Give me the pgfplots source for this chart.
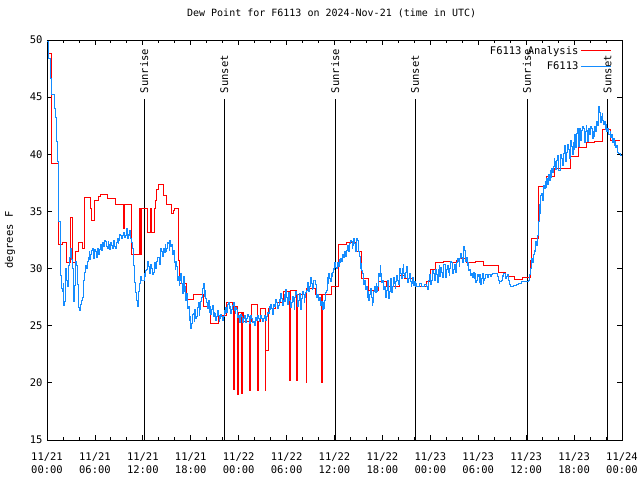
\documentclass[border=0pt]{standalone}
\usepackage{pgfplots}
\pgfplotsset{compat=1.18}
\usepackage{fontspec}
\setmainfont{DejaVu Sans Mono}
\definecolor{obsblue}{RGB}{20,140,255}
\begin{document}
\begin{tikzpicture}
\useasboundingbox (-47pt,-40pt) rectangle (593pt,440pt);
\begin{axis}[
  at={(0,0)}, anchor=south west,
  scale only axis, width=575pt, height=400pt,
  xmin=0, xmax=72, ymin=15, ymax=50,
  xtick={0,6,...,72},
  xticklabels={11/21\\00:00,11/21\\06:00,11/21\\12:00,11/21\\18:00,11/22\\00:00,11/22\\06:00,11/22\\12:00,11/22\\18:00,11/23\\00:00,11/23\\06:00,11/23\\12:00,11/23\\18:00,11/24\\00:00},
  minor x tick num=2,
  ytick={15,20,...,50},
  tick align=inside,
  major tick length=5pt, minor tick length=3pt,
  tick style={black, line width=0.8pt},
  axis line style={line width=0.8pt},
  /pgf/number format/assume math mode=true,
  ticklabel style={font=\fontsize{10.5}{13}\selectfont},
  xticklabel style={align=center, yshift=-9pt},
  yticklabel style={xshift=-1pt},
  title={Dew Point for F6113 on 2024-Nov-21 (time in UTC)},
  title style={at={(axis description cs:0.495,1)}, anchor=base, yshift=17pt, font=\fontsize{10}{12}\selectfont},
  ylabel={degrees F},
  ylabel style={at={(axis description cs:-0.0643,0.5)}, anchor=center, font=\fontsize{10.5}{12}\selectfont},
  legend style={at={(0.982,0.99)}, anchor=north east, draw=none, fill=none, font=\fontsize{10.5}{12}\selectfont, inner sep=0pt, row sep=2pt},
  legend cell align=right,
  legend plot pos=right,
  legend image code/.code={\draw[#1] (0pt,0pt) -- (30pt,0pt);},
]
\addplot[black, line width=0.8pt, forget plot] coordinates {(12.18,15) (12.18,44.8)};
\addplot[black, line width=0.8pt, forget plot] coordinates {(22.2,15) (22.2,44.8)};
\addplot[black, line width=0.8pt, forget plot] coordinates {(36.1,15) (36.1,44.8)};
\addplot[black, line width=0.8pt, forget plot] coordinates {(46.1,15) (46.1,44.8)};
\addplot[black, line width=0.8pt, forget plot] coordinates {(60.1,15) (60.1,44.8)};
\addplot[black, line width=0.8pt, forget plot] coordinates {(70.2,15) (70.2,44.8)};
\node[rotate=90, anchor=west, inner sep=1pt, font=\fontsize{10.5}{12}\selectfont] at (axis cs:12.18,45.25) {Sunrise};
\node[rotate=90, anchor=west, inner sep=1pt, font=\fontsize{10.5}{12}\selectfont] at (axis cs:22.2,45.25) {Sunset};
\node[rotate=90, anchor=west, inner sep=1pt, font=\fontsize{10.5}{12}\selectfont] at (axis cs:36.1,45.25) {Sunrise};
\node[rotate=90, anchor=west, inner sep=1pt, font=\fontsize{10.5}{12}\selectfont] at (axis cs:46.1,45.25) {Sunset};
\node[rotate=90, anchor=west, inner sep=1pt, font=\fontsize{10.5}{12}\selectfont] at (axis cs:60.1,45.25) {Sunrise};
\node[rotate=90, anchor=west, inner sep=1pt, font=\fontsize{10.5}{12}\selectfont] at (axis cs:70.2,45.25) {Sunset};
\addplot[const plot, red, line width=1pt] table {
h v
0.1 48.8
0.55 39.2
1.38 32.1
1.9 32.3
2.4 30.5
2.9 34.5
3.25 30.5
3.6 31.5
3.9 32.3
4.4 31.8
4.7 36.2
5.45 35.3
5.6 34.25
6.0 36.0
6.5 36.3
6.7 36.5
7.55 36.1
8.6 35.6
9.55 33.5
9.7 35.6
10.6 31.2
11.55 35.3
11.65 31.2
11.8 35.3
12.6 33.2
12.9 35.3
12.95 33.2
13.05 35.3
13.1 33.2
13.45 35.3
13.55 36.0
13.65 36.9
13.9 37.4
14.6 36.4
15.0 35.6
15.6 34.8
15.8 35.1
16.0 35.3
16.45 30.7
16.6 28.7
17.5 27.3
18.4 27.7
19.6 26.7
20.5 25.2
21.45 25.9
22.5 27.0
23.2 26.7
23.35 19.4
23.5 26.7
23.85 19.0
23.95 26.2
24.35 19.1
24.45 26.2
24.55 25.4
25.3 19.3
25.5 25.4
25.6 26.9
26.3 25.4
26.35 19.3
26.5 25.4
26.7 26.5
27.3 19.3
27.4 22.8
27.7 26.5
28.55 27.0
29.6 28.0
30.35 20.2
30.55 28.1
31.25 20.2
31.4 27.75
32.45 20.0
32.55 28.3
33.6 27.7
34.35 20.0
34.5 27.7
35.65 28.4
36.5 32.1
37.5 32.3
38.57 31.5
39.4 29.1
40.2 28.1
41.5 28.85
42.5 28.4
44.2 29.4
44.8 29.1
45.9 28.6
46.3 28.4
47.5 28.9
48.0 29.9
48.6 30.5
49.6 30.6
50.7 30.5
51.3 30.7
51.7 30.9
52.55 30.5
53.6 30.6
54.6 30.25
56.5 29.7
57.35 29.3
58.6 29.05
59.6 29.2
60.5 30.75
60.7 32.6
61.6 37.2
62.6 38.1
63.5 38.8
65.5 39.8
66.5 40.6
67.6 41.05
68.6 41.1
69.5 42.2
70.5 41.2
71.75 41.2
};
\addlegendentry{F6113 Analysis}
\addplot[const plot, obsblue, line width=1pt] table {
h v
0.04 49.9
0.25 48.4
0.46 46.6
0.54 45.2
0.88 44.0
1.08 43.2
1.21 41.1
1.29 39.4
1.38 37.2
1.5 34.1
1.63 31.2
1.71 29.4
1.8 28.3
1.92 28.0
2.05 28.7
2.12 26.8
2.21 27.1
2.34 30.0
2.45 29.0
2.55 28.4
2.65 29.8
2.75 30.3
2.85 31.0
2.96 31.8
3.05 30.8
3.17 30.0
3.28 28.2
3.38 27.1
3.5 28.5
3.62 30.6
3.71 30.3
3.8 28.6
3.9 27.5
4.0 26.6
4.13 26.3
4.2 26.9
4.3 27.2
4.45 27.5
4.55 27.8
4.62 29.0
4.72 29.7
4.84 30.3
4.95 30.0
5.05 30.6
5.15 31.0
5.26 31.5
5.36 30.8
5.47 31.2
5.58 31.6
5.68 31.8
5.78 30.9
5.89 31.2
6.0 31.7
6.1 31.5
6.2 31.0
6.3 31.8
6.4 31.6
6.5 31.2
6.6 31.7
6.72 32.1
6.82 31.6
6.93 32.3
7.04 31.9
7.14 32.1
7.25 32.5
7.35 32.4
7.45 31.9
7.55 31.8
7.66 32.4
7.76 32.1
7.86 31.7
7.97 32.3
8.08 32.0
8.18 31.8
8.29 32.5
8.39 32.4
8.5 31.9
8.6 31.8
8.7 32.3
8.8 32.6
8.9 32.2
9.0 32.5
9.11 33.0
9.22 32.9
9.32 32.6
9.43 32.9
9.54 33.1
9.64 33.2
9.75 32.7
9.85 32.9
9.96 33.5
10.06 32.6
10.17 33.0
10.27 32.9
10.38 33.3
10.48 32.6
10.6 32.3
10.7 31.8
10.8 30.3
10.9 29.7
11.0 28.8
11.1 27.9
11.2 27.2
11.3 26.7
11.4 27.5
11.5 28.0
11.6 28.7
11.7 29.3
11.85 29.0
12.06 29.0
12.15 29.6
12.27 29.3
12.38 29.8
12.48 29.9
12.58 30.6
12.69 30.2
12.8 29.6
12.9 29.9
13.0 30.4
13.1 30.0
13.2 29.5
13.3 29.7
13.4 30.3
13.5 30.5
13.62 30.0
13.73 30.6
13.83 31.0
13.94 31.0
14.05 30.4
14.15 31.3
14.25 31.8
14.36 31.5
14.46 31.1
14.57 31.8
14.68 31.4
14.78 32.1
14.88 31.5
14.98 31.8
15.09 32.3
15.19 32.2
15.3 31.6
15.4 32.5
15.5 31.9
15.61 32.1
15.72 31.2
15.82 31.6
15.94 30.5
16.03 29.9
16.13 30.6
16.23 30.2
16.33 29.0
16.44 29.3
16.55 28.5
16.65 29.0
16.76 29.6
16.86 28.7
16.96 27.8
17.07 29.3
17.17 28.0
17.28 28.4
17.38 27.2
17.48 27.8
17.59 26.5
17.69 26.7
17.8 25.5
17.9 25.8
18.0 24.8
18.11 25.2
18.22 26.0
18.32 26.1
18.42 25.4
18.53 26.4
18.64 25.6
18.74 25.8
18.85 26.6
18.95 27.0
19.05 25.9
19.15 26.4
19.26 27.1
19.36 27.5
19.47 28.3
19.57 28.7
19.68 27.6
19.78 28.1
19.9 27.4
19.99 27.0
20.1 26.5
20.2 27.25
20.3 26.2
20.4 26.7
20.5 26.0
20.6 26.4
20.72 26.8
20.82 25.8
20.92 26.2
21.03 26.1
21.14 25.5
21.24 25.8
21.35 26.3
21.45 25.9
21.55 25.4
21.65 25.65
21.76 26.0
21.86 25.8
21.96 25.5
22.07 25.8
22.18 26.3
22.28 26.1
22.38 26.6
22.49 26.2
22.6 26.9
22.7 27.0
22.8 26.5
22.9 26.7
23.0 26.1
23.1 26.4
23.2 26.8
23.32 27.0
23.42 26.3
23.55 26.1
23.65 26.6
23.75 26.4
23.85 25.7
23.96 25.9
24.06 25.3
24.17 25.5
24.27 26.0
24.38 25.8
24.48 25.3
24.59 25.65
24.7 25.9
24.8 25.5
24.9 25.3
25.0 25.65
25.1 26.0
25.21 25.8
25.3 25.2
25.42 25.5
25.52 25.9
25.63 25.65
25.73 25.3
25.84 25.35
25.95 25.0
26.05 25.2
26.15 25.7
26.25 25.5
26.35 25.9
26.46 25.65
26.56 25.4
26.67 25.65
26.77 25.9
26.88 25.65
26.98 25.4
27.09 25.65
27.2 25.9
27.3 25.65
27.4 25.5
27.5 25.8
27.6 26.2
27.7 26.1
27.8 26.7
27.9 26.4
28.0 26.9
28.13 26.5
28.2 26.0
28.3 26.2
28.4 26.9
28.5 26.7
28.6 27.3
28.76 27.0
28.86 26.5
28.97 26.8
29.07 27.3
29.18 27.1
29.3 27.8
29.4 27.4
29.5 26.8
29.6 27.25
29.7 27.7
29.8 27.1
29.9 28.2
30.0 27.5
30.1 26.9
30.2 27.4
30.3 27.9
30.4 27.25
30.5 26.6
30.6 27.0
30.7 27.6
30.85 27.1
30.95 26.4
31.05 27.5
31.15 28.0
31.26 27.7
31.38 26.7
31.5 27.25
31.6 27.8
31.7 27.1
31.8 26.4
31.9 27.4
32.0 28.0
32.1 27.7
32.2 27.0
32.3 27.5
32.4 27.9
32.5 28.1
32.6 28.8
32.7 28.6
32.8 28.0
32.9 28.4
33.0 29.2
33.1 28.7
33.2 28.2
33.3 28.3
33.4 29.0
33.5 29.0
33.6 28.6
33.7 28.1
33.8 27.5
33.9 27.7
34.0 27.2
34.1 27.5
34.2 26.8
34.35 27.1
34.45 26.4
34.6 27.0
34.7 26.5
34.8 27.25
34.9 27.9
35.0 28.1
35.1 29.2
35.2 28.7
35.3 29.6
35.4 29.15
35.5 28.9
35.6 29.6
35.7 29.3
35.8 29.7
35.9 30.0
36.0 29.9
36.06 30.5
36.17 30.1
36.27 30.0
36.38 30.5
36.48 30.2
36.59 30.8
36.69 30.5
36.8 30.9
36.9 30.6
37.0 31.2
37.1 31.0
37.2 31.5
37.3 31.5
37.4 31.1
37.5 31.6
37.6 32.0
37.7 31.9
37.8 31.5
37.9 32.2
38.0 32.5
38.1 32.35
38.2 31.8
38.3 32.06
38.4 32.6
38.5 32.2
38.6 31.5
38.7 31.77
38.8 32.6
38.9 32.5
39.0 31.5
39.1 31.04
39.2 30.0
39.3 30.46
39.4 29.8
39.5 29.6
39.6 28.6
39.7 29.0
39.85 28.2
39.99 28.4
40.1 27.5
40.2 28.0
40.3 27.2
40.4 27.7
40.5 28.3
40.6 27.5
40.7 26.8
40.8 27.0
40.9 28.0
41.0 28.4
41.1 27.9
41.2 28.7
41.3 28.0
41.4 28.4
41.5 29.6
41.6 29.3
41.7 30.3
41.8 29.6
41.9 28.8
42.0 29.0
42.1 28.2
42.25 28.4
42.4 27.5
42.5 28.1
42.6 29.0
42.7 28.4
42.8 27.4
42.9 27.98
43.0 29.1
43.1 28.56
43.2 27.9
43.3 28.4
43.4 29.2
43.5 28.7
43.6 28.3
43.7 28.85
43.8 29.4
43.9 29.0
44.0 28.6
44.1 29.3
44.2 30.0
44.3 29.6
44.4 29.1
44.5 30.0
44.6 30.4
44.7 29.6
44.8 29.2
44.9 29.7
45.0 30.2
45.1 29.4
45.2 28.8
45.3 29.15
45.4 29.6
45.5 28.85
45.6 28.4
45.7 28.7
45.8 29.2
45.9 28.56
46.0 28.9
46.1 28.4
46.2 28.7
46.3 28.4
46.5 28.4
46.7 28.7
46.9 28.4
47.1 28.4
47.3 28.6
47.5 28.4
47.6 28.2
47.75 29.0
47.85 29.5
47.96 29.3
48.05 28.6
48.17 29.0
48.3 29.8
48.4 29.6
48.5 29.0
48.6 29.3
48.7 29.9
48.8 29.44
48.9 28.8
49.0 29.9
49.1 30.3
49.2 29.3
49.3 30.1
49.4 29.7
49.5 29.2
49.6 30.0
49.7 30.4
49.85 29.6
49.95 29.2
50.05 29.9
50.15 30.3
50.25 29.7
50.35 29.4
50.45 30.0
50.55 30.6
50.7 30.5
50.8 29.6
50.9 29.9
51.0 30.4
51.1 30.2
51.2 29.7
51.3 30.5
51.4 30.9
51.5 30.6
51.6 30.2
51.7 30.9
51.8 31.3
51.9 31.0
52.0 30.5
52.1 30.75
52.2 31.9
52.3 31.6
52.4 30.6
52.5 31.0
52.6 30.3
52.7 30.5
52.8 29.8
52.9 29.9
53.0 29.4
53.18 29.6
53.3 29.2
53.39 29.7
53.5 29.1
53.6 29.6
53.7 28.8
53.8 29.0
53.9 29.5
54.0 29.3
54.1 28.8
54.2 29.44
54.3 28.6
54.4 29.15
54.5 29.6
54.6 28.7
54.7 29.0
54.8 29.15
54.9 29.5
55.0 29.44
55.15 29.2
55.3 29.44
55.4 29.5
55.5 29.3
55.6 29.5
55.7 29.5
55.8 29.6
55.9 29.6
56.1 29.6
56.3 29.6
56.4 29.3
56.5 29.0
56.6 28.7
56.7 28.85
56.9 29.0
57.0 29.4
57.1 29.3
57.2 29.6
57.35 29.44
57.45 29.1
57.56 29.3
57.65 29.5
57.77 29.0
57.9 28.6
57.98 28.4
58.2 28.4
58.4 28.56
58.6 28.56
58.8 28.65
59.0 28.71
59.2 28.71
59.4 28.85
59.6 28.85
59.8 28.85
60.06 28.85
60.27 29.0
60.48 29.44
60.56 30.0
60.69 30.9
60.8 30.5
60.9 31.2
61.0 31.6
61.1 31.5
61.2 32.35
61.3 32.0
61.4 32.9
61.5 34.1
61.65 35.6
61.75 34.8
61.8 36.4
61.94 36.6
62.05 36.0
62.15 37.3
62.25 37.0
62.36 37.6
62.45 37.1
62.57 37.9
62.7 37.4
62.78 38.2
62.9 37.7
63.0 38.6
63.1 38.0
63.2 38.8
63.3 38.4
63.4 38.9
63.5 39.6
63.6 39.35
63.7 38.7
63.8 39.5
63.9 39.9
64.0 38.9
64.1 38.6
64.24 39.35
64.35 40.0
64.45 39.65
64.55 39.0
64.66 40.1
64.75 40.8
64.87 39.9
64.97 39.4
65.08 40.2
65.2 40.9
65.3 40.4
65.4 39.6
65.5 40.5
65.6 41.2
65.7 40.7
65.8 40.0
65.9 41.0
66.0 40.4
66.1 41.7
66.2 40.6
66.3 41.8
66.4 42.3
66.5 42.0
66.6 40.7
66.7 42.3
66.8 41.2
66.9 42.1
67.0 42.4
67.2 42.3
67.3 41.0
67.4 42.0
67.5 42.5
67.6 42.1
67.7 41.1
67.8 42.3
67.9 41.7
68.0 42.1
68.1 42.4
68.2 42.3
68.3 41.4
68.4 42.0
68.5 41.6
68.6 42.4
68.7 42.0
68.8 42.85
68.9 42.5
69.0 43.4
69.1 44.2
69.2 43.7
69.3 42.8
69.4 43.3
69.5 43.6
69.6 43.0
69.7 42.6
69.8 42.85
69.9 42.2
70.0 42.6
70.1 42.0
70.2 42.3
70.3 41.7
70.5 42.0
70.6 41.5
70.7 41.7
70.8 41.0
70.9 41.4
71.0 40.8
71.1 41.1
71.2 40.6
71.3 40.8
71.4 40.2
71.5 40.1
71.8 39.9
72.0 39.9
};
\addlegendentry{F6113}
\end{axis}
\end{tikzpicture}
\end{document}
